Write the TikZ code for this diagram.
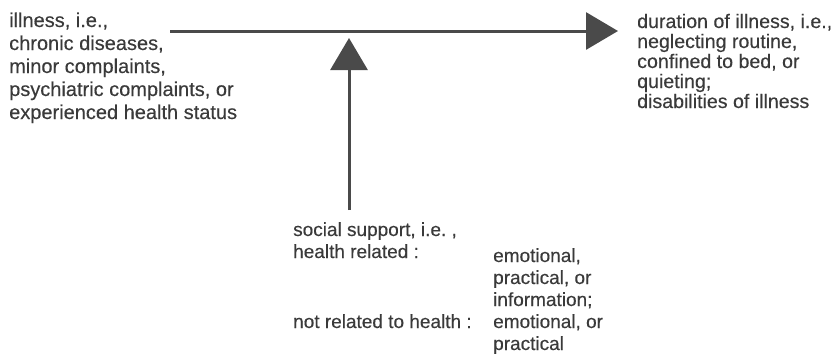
\documentclass[tikz,border=0pt]{standalone}
\usepackage{fontspec}
\setmainfont{Liberation Sans}[FakeBold=0.35]
\usetikzlibrary{arrows.meta}
\definecolor{inkgray}{HTML}{3A3A3A}
\definecolor{arrowgray}{HTML}{4A4A4A}
\begin{document}
\begin{tikzpicture}[x=1pt,y=-1pt,
  txt/.style={anchor=base west,inner sep=0pt,text=inkgray},
  lefttxt/.style={txt,font=\fontsize{20}{23}\selectfont},
  righttxt/.style={txt,font=\fontsize{19.6}{20}\selectfont},
  bottxt/.style={txt,font=\fontsize{19}{22}\selectfont},
  flow/.style={draw=arrowgray,line width=3pt,
    -{Triangle[length=32pt,width=37pt,fill=arrowgray]}}]
\useasboundingbox (0,0) rectangle (834,354);

% left block: illness
\node[lefttxt] (l1) at (9,27) {illness, i.e.,};
\node[lefttxt] (l2) at (9,50) {chronic diseases,};
\node[lefttxt] (l3) at (9,73) {minor complaints,};
\node[lefttxt] (l4) at (9,96) {psychiatric complaints, or};
\node[lefttxt] (l5) at (9,119) {experienced health status};

% right block: duration of illness
\node[righttxt] (r1) at (637,28) {duration of illness, i.e.,};
\node[righttxt] (r2) at (637,48) {neglecting routine,};
\node[righttxt] (r3) at (637,68) {confined to bed, or};
\node[righttxt] (r4) at (637,88) {quieting;};
\node[righttxt] (r5) at (637,108) {disabilities of illness};

% bottom block: social support
\node[bottxt] (s1) at (293,236) {social support, i.e.\ ,};
\node[bottxt] (s2) at (293,258) {health related :};
\node[bottxt] (s3) at (293,328) {not related to health :};
\node[bottxt] (e1) at (493,262) {emotional,};
\node[bottxt] (e2) at (493,284) {practical, or};
\node[bottxt] (e3) at (493,306) {information;};
\node[bottxt] (e4) at (493,328) {emotional, or};
\node[bottxt] (e5) at (493,350) {practical};

% arrow ends
\coordinate (hstart) at (170,31);
\coordinate (htip) at (618,31);
\coordinate (vstart) at (349,210);
\coordinate (vtip) at (349,38);

\draw[flow] (hstart) -- (htip);
\draw[flow] (vstart) -- (vtip);
\end{tikzpicture}
\end{document}
